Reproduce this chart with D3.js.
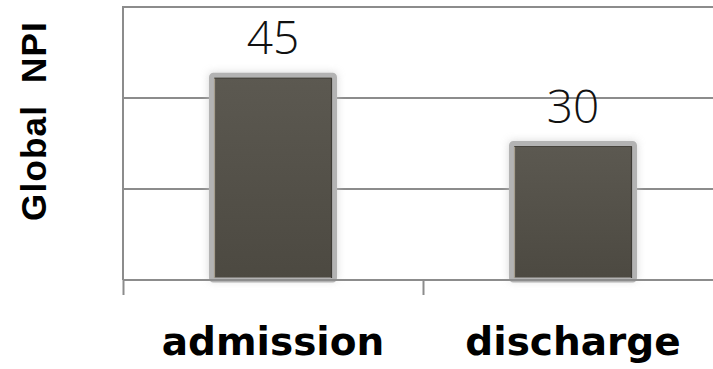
<!DOCTYPE html>
<html>
<head>
<meta charset="utf-8">
<script src="https://cdn.jsdelivr.net/npm/d3@7"></script>
<style>
  html, body { margin: 0; padding: 0; background: #ffffff; }
  svg { display: block; }
</style>
</head>
<body>
<svg id="chart" width="713" height="369"></svg>
<script>
// Global NPI at admission and at discharge
const categories = ["admission", "discharge"];
const values = [45, 30];
const yTicks = [0, 20, 40, 60];
const yTitle = "Global  NPI";

const W = 713, H = 369;
const plotLeft = 123, baseline = 280, plotTop = 7;

const svg = d3.select("#chart");

const defs = svg.append("defs");
const grad = defs.append("linearGradient").attr("id", "barFill")
  .attr("x1", 0).attr("y1", 0).attr("x2", 0).attr("y2", 1);
grad.append("stop").attr("offset", "0%").attr("stop-color", "#5c5951");
grad.append("stop").attr("offset", "100%").attr("stop-color", "#4c4941");

const blur = defs.append("filter").attr("id", "shadow")
  .attr("x", "-20%").attr("y", "-20%").attr("width", "140%").attr("height", "140%");
blur.append("feGaussianBlur").attr("stdDeviation", 4);

const y = d3.scaleLinear().domain([0, 60]).range([baseline, plotTop]);
const x = d3.scaleBand().domain(categories)
  .range([plotLeft, plotLeft + 600]).paddingInner(0.59).paddingOuter(0.295);

// horizontal gridlines
svg.append("g").selectAll("line").data(yTicks).join("line")
  .attr("x1", plotLeft).attr("x2", W)
  .attr("y1", d => y(d)).attr("y2", d => y(d))
  .attr("stroke", "#8c8c8c").attr("stroke-width", 2);

// vertical value axis line
svg.append("line")
  .attr("x1", plotLeft).attr("x2", plotLeft)
  .attr("y1", y(60) - 1).attr("y2", baseline)
  .attr("stroke", "#8c8c8c").attr("stroke-width", 2);

// category axis with ticks at band boundaries
const xAxis = d3.axisBottom(d3.scaleLinear().domain([0, 2]).range([plotLeft, plotLeft + 600]))
  .tickValues([0, 1, 2]).tickSize(15).tickFormat("");
const gx = svg.append("g").attr("transform", `translate(0,${baseline})`).call(xAxis);
gx.select(".domain").remove();
gx.selectAll(".tick line").attr("stroke", "#8c8c8c").attr("stroke-width", 2);

// category labels
svg.append("g").selectAll("text").data(categories).join("text")
  .attr("x", d => x(d) + x.bandwidth() / 2)
  .attr("y", 355)
  .attr("text-anchor", "middle")
  .attr("font-family", "'DejaVu Sans', sans-serif")
  .attr("font-weight", "bold")
  .attr("font-size", 39)
  .attr("fill", "#000")
  .text(d => d);

// bars
const bars = svg.append("g").selectAll("g").data(categories).join("g");
bars.append("rect")
  .attr("x", d => x(d) - 2)
  .attr("y", (d, i) => y(values[i]) - 2)
  .attr("width", x.bandwidth() + 4)
  .attr("height", (d, i) => baseline - y(values[i]) + 2)
  .attr("fill", "#c8c8c8").attr("opacity", 0.8)
  .attr("filter", "url(#shadow)");
bars.append("rect")
  .attr("x", d => x(d))
  .attr("y", (d, i) => y(values[i]))
  .attr("width", x.bandwidth())
  .attr("height", (d, i) => baseline - y(values[i]))
  .attr("fill", "url(#barFill)")
  .attr("stroke", "#b3b3b3").attr("stroke-width", 5)
  .attr("rx", 2);
// thin inner edges: light on the left, dark on the right and top
bars.append("line")
  .attr("x1", d => x(d) + 3).attr("x2", d => x(d) + 3)
  .attr("y1", (d, i) => y(values[i]) + 3).attr("y2", baseline - 2)
  .attr("stroke", "#a59d8c").attr("stroke-width", 1.2);
bars.append("line")
  .attr("x1", d => x(d) + x.bandwidth() - 3).attr("x2", d => x(d) + x.bandwidth() - 3)
  .attr("y1", (d, i) => y(values[i]) + 3).attr("y2", baseline - 2)
  .attr("stroke", "#3c3a34").attr("stroke-width", 1.2);
bars.append("line")
  .attr("x1", d => x(d) + 3).attr("x2", d => x(d) + x.bandwidth() - 3)
  .attr("y1", (d, i) => y(values[i]) + 3).attr("y2", (d, i) => y(values[i]) + 3)
  .attr("stroke", "#46433c").attr("stroke-width", 1.2);

// baseline redrawn over the bars' foot
svg.append("line")
  .attr("x1", plotLeft).attr("x2", W)
  .attr("y1", baseline).attr("y2", baseline)
  .attr("stroke", "#8c8c8c").attr("stroke-width", 2);

// value labels
svg.append("g").selectAll("text").data(categories).join("text")
  .attr("x", d => x(d) + x.bandwidth() / 2)
  .attr("y", (d, i) => y(values[i]) - 21)
  .attr("text-anchor", "middle")
  .attr("font-family", "'Open Sans', sans-serif")
  .attr("font-weight", 300)
  .attr("font-size", 46)
  .attr("fill", "#111")
  .text((d, i) => values[i]);

// y axis title
svg.append("text")
  .attr("transform", "translate(46,121) rotate(-90)")
  .attr("text-anchor", "middle")
  .attr("font-family", "'Liberation Sans', Arial, sans-serif")
  .attr("font-weight", "bold")
  .attr("font-size", 35)
  .attr("letter-spacing", 1.2)
  .attr("fill", "#000")
  .attr("xml:space", "preserve")
  .style("white-space", "pre")
  .text(yTitle);
</script>
</body>
</html>
